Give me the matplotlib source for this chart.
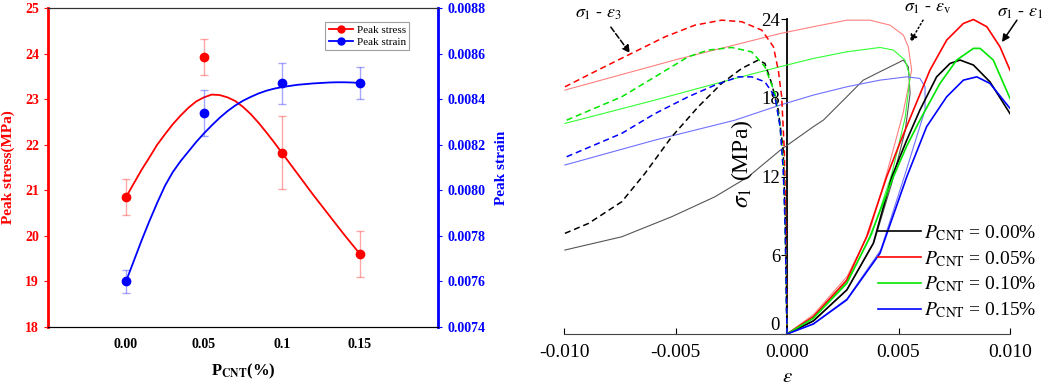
import matplotlib
matplotlib.use("Agg")
import matplotlib.pyplot as plt

plt.rcParams['font.family'] = ['Liberation Serif', 'DejaVu Serif']
plt.rcParams['mathtext.fontset'] = 'stix'

# ---- left panel data ----
pcnt = [0.00, 0.05, 0.10, 0.15]
peak_stress = [20.85, 23.93, 21.82, 19.60]
stress_err = [0.40, 0.40, 0.80, 0.50]
peak_strain = [0.00760, 0.00834, 0.00847, 0.00847]
strain_err = [0.00005, 0.00010, 0.00009, 0.00007]

# fitted curves
fit_x = [0.0, 0.005, 0.01, 0.015, 0.02, 0.025, 0.03, 0.035, 0.04, 0.045, 0.05, 0.055,
         0.06, 0.065, 0.07, 0.075, 0.08, 0.085, 0.09, 0.095, 0.1, 0.105, 0.11, 0.115,
         0.12, 0.125, 0.13, 0.135, 0.14, 0.145, 0.15]
fit_stress = [20.85, 21.15, 21.45, 21.72, 22.0, 22.23, 22.45, 22.64, 22.81, 22.95, 23.04, 23.1,
              23.09, 23.04, 22.96, 22.83, 22.67, 22.48, 22.27, 22.05, 21.82, 21.59, 21.36, 21.13,
              20.9, 20.68, 20.46, 20.24, 20.02, 19.81, 19.6]
fit_strain = [0.00760, 0.00769, 0.00778, 0.007865, 0.007945, 0.00802, 0.00808, 0.008128,
              0.00817, 0.008212, 0.00825, 0.008285, 0.008318, 0.008347, 0.008372, 0.008393,
              0.00841, 0.008425, 0.008437, 0.008446, 0.008453, 0.008458, 0.008463, 0.008466,
              0.008469, 0.008471, 0.008473, 0.008474, 0.008474, 0.008473, 0.008471]

# ---- right panel data (strain, stress) ----
labels = ['0.00', '0.05', '0.10', '0.15']
colors = ['black', '#ff0000', '#00e600', '#0000ff']
ev_colors = ['#555555', '#ff8080', '#33ff33', '#7070ff']

e1_x = [
    [0, 0.00118, 0.00268, 0.00387, 0.0047, 0.00535, 0.00596, 0.00671, 0.00731, 0.00776, 0.00836, 0.0091, 0.01],
    [0, 0.00118, 0.00268, 0.00357, 0.00447, 0.00507, 0.00567, 0.00641, 0.00716, 0.00791, 0.00836, 0.00896, 0.00955, 0.01],
    [0, 0.00118, 0.00268, 0.00372, 0.00477, 0.00536, 0.00596, 0.00686, 0.00761, 0.00836, 0.00866, 0.00925, 0.01],
    [0, 0.00118, 0.00268, 0.00417, 0.00537, 0.00626, 0.00716, 0.00791, 0.00851, 0.0091, 0.01],
]
e1_y = [
    [0, 1.0, 3.35, 6.91, 11.98, 14.7, 17.07, 19.6, 20.62, 20.88, 20.5, 19.22, 16.8],
    [0, 1.32, 4.11, 7.41, 11.98, 14.6, 17.07, 20.11, 22.4, 23.67, 23.97, 23.42, 21.89, 20.11],
    [0, 1.2, 3.86, 7.41, 11.98, 14.3, 16.3, 19.1, 20.88, 21.77, 21.77, 20.88, 17.96],
    [0, 0.76, 2.6, 6.15, 11.98, 15.8, 18.08, 19.35, 19.6, 19.1, 17.2],
]

e3_x = [
    [-0.00996, -0.0089, -0.00741, -0.00637, -0.00517, -0.00398, -0.00293, -0.00203, -0.00129,
     -0.00099, -0.00069, -0.00039, -0.00017, -0.00008, -0.00003, 0],
    [-0.00996, -0.0085, -0.00697, -0.00547, -0.00413, -0.00293, -0.00203, -0.00113, -0.00061,
     -0.00039, -0.00024, -0.00012, -0.00006, -0.00002, 0],
    [-0.00988, -0.00741, -0.00592, -0.00443, -0.00353, -0.00248, -0.00158, -0.00099, -0.00054,
     -0.00031, -0.00017, -0.00008, -0.00003, 0],
    [-0.00988, -0.00741, -0.00592, -0.00443, -0.00323, -0.00218, -0.00158, -0.00099, -0.00054,
     -0.00031, -0.00017, -0.00008, -0.00003, 0],
]
e3_y = [
    [7.67, 8.43, 10.08, 12.24, 15.03, 17.32, 19.1, 20.24, 20.88, 20.62, 19.1, 17.07, 14.0, 9.0, 3.0, 0],
    [18.84, 20.1, 21.39, 22.65, 23.54, 23.92, 23.8, 23.16, 21.9, 20.1, 18.1, 14.0, 9.0, 3.0, 0],
    [16.3, 18.08, 19.6, 21.13, 21.64, 21.84, 21.5, 20.37, 18.34, 15.8, 13.26, 8.0, 3.0, 0],
    [13.51, 15.29, 16.8, 18.08, 18.97, 19.6, 19.6, 19.22, 18.08, 15.8, 12.5, 8.0, 3.0, 0],
]

ev_x = [
    [0, 0.0012, 0.0027, 0.0039, 0.0047, 0.0053, 0.00552, 0.00544, 0.00522, 0.00492, 0.00417,
     0.00342, 0.00268, 0.00163, 0.00118, -0.00031, -0.00174, -0.00323, -0.00517, -0.00741, -0.00996],
    [0, 0.0012, 0.0027, 0.0037, 0.0045, 0.0052, 0.00559, 0.00544, 0.00522, 0.00462, 0.00372,
     0.00268, 0.00118, -0.00031, -0.005, -0.00996],
    [0, 0.0012, 0.0027, 0.0038, 0.0047, 0.0053, 0.00552, 0.00529, 0.00477, 0.00417, 0.00268,
     0.00118, -0.00031, -0.00233, -0.00592, -0.00996],
    [0, 0.0012, 0.0027, 0.0042, 0.0053, 0.0059, 0.00619, 0.00619, 0.00596, 0.00537, 0.00417,
     0.00268, 0.00118, -0.00031, -0.00233, -0.00592, -0.00996],
]
ev_y = [
    [0, 1.0, 3.4, 7.0, 11.5, 15.5, 18.34, 20.37, 20.88, 20.62, 19.99, 19.35, 18.08, 16.3, 15.8,
     14.0, 11.98, 10.46, 8.94, 7.41, 6.4],
    [0, 1.5, 4.4, 7.8, 12.4, 16.8, 20.11, 21.89, 22.78, 23.54, 23.92, 23.92, 23.42, 22.9, 20.9, 18.59],
    [0, 1.3, 4.0, 7.6, 12.2, 16.5, 19.6, 20.88, 21.64, 21.84, 21.51, 21.0, 20.37, 19.48, 17.83, 16.05],
    [0, 0.8, 2.7, 6.4, 12.2, 15.5, 17.07, 18.84, 19.48, 19.6, 19.35, 18.84, 18.21, 17.45, 16.3,
     14.78, 12.88],
]

fig = plt.figure(figsize=(10.52, 3.88), dpi=100)

# ================= left panel =================
ax = fig.add_axes([48 / 1052, 1 - 327 / 388, 390 / 1052, 319 / 388])
ax2 = ax.twinx()
red = '#ff0000'
blue = '#0000ff'

ax.plot(fit_x, fit_stress, color=red, lw=1.3, zorder=3)
ax.errorbar(pcnt, peak_stress, yerr=stress_err, fmt='none', ecolor=red, alpha=0.35,
            capsize=3, elinewidth=1, zorder=2)
ax.plot(pcnt, peak_stress, 'o', color=red, ms=6, zorder=4)

ax2.plot(fit_x, fit_strain, color=blue, lw=1.3, zorder=3)
ax2.errorbar(pcnt, peak_strain, yerr=strain_err, fmt='none', ecolor=blue, alpha=0.35,
             capsize=3, elinewidth=1, zorder=2)
ax2.plot(pcnt, peak_strain, 'o', color=blue, ms=6, zorder=4)

ax.set_xlim(-0.05, 0.2)
ax.set_ylim(18, 25)
ax2.set_ylim(0.0074, 0.0088)
ax.set_xticks(pcnt)
ax.set_xticklabels(['0.00', '0.05', '0.1', '0.15'], fontsize=10, fontweight='bold')
ax.tick_params(axis='x', length=0, pad=8)
ax.tick_params(axis='y', colors=red, labelsize=10, direction='out', length=3)
ax2.tick_params(axis='y', colors=blue, labelsize=10, direction='out', length=3)
for t in ax.get_yticklabels() + ax2.get_yticklabels():
    t.set_fontweight('bold')
ax.spines['left'].set_color(red)
ax.spines['left'].set_linewidth(2)
ax2.spines['left'].set_visible(False)
ax2.spines['right'].set_color(blue)
ax2.spines['right'].set_linewidth(2)
ax.spines['top'].set_color('#333333')
ax2.spines['top'].set_color('#333333')
ax.set_ylabel('Peak stress(MPa)', color=red, fontsize=11, fontweight='bold', labelpad=7)
ax2.set_ylabel('Peak strain', color=blue, fontsize=11, fontweight='bold', labelpad=7)
ax.set_xlabel(r'P$_{\mathbf{CNT}}$(%)', fontsize=12, fontweight='bold', labelpad=8)

h1, = ax.plot([], [], '-o', color=red, ms=5, lw=1.3)
h2, = ax.plot([], [], '-o', color=blue, ms=5, lw=1.3)
leg = ax.legend([h1, h2], ['Peak stress', 'Peak strain'], loc='upper right',
                bbox_to_anchor=(0.94, 0.975), fontsize=8, fancybox=False,
                handlelength=2.2, borderpad=0.3, labelspacing=0.2, handletextpad=0.3)
leg.get_frame().set_edgecolor('#888888')
leg.get_frame().set_linewidth(0.8)

# ================= right panel =================
bx = fig.add_axes([564 / 1052, 1 - 334 / 388, 446 / 1052, 328 / 388])
for i in range(4):
    bx.plot(ev_x[i], ev_y[i], color=ev_colors[i], lw=0.8)
for i in range(4):
    bx.plot(e3_x[i], e3_y[i], color=colors[i], lw=1.1, ls=(0, (4, 2.5)))
for i in range(4):
    bx.plot(e1_x[i], e1_y[i], color=colors[i], lw=1.2,
            label=r'$P_{\rm CNT}$ = ' + labels[i] + '%')

bx.set_xlim(-0.01, 0.01)
bx.set_ylim(0, 25)
bx.spines['top'].set_visible(False)
bx.spines['right'].set_visible(False)
bx.spines['left'].set_position(('data', 0))
bx.spines['left'].set_bounds(0, 24)
bx.spines['left'].set_linewidth(1.3)
bx.spines['bottom'].set_bounds(-0.01, 0.01)
bx.spines['bottom'].set_color('#444444')
bx.spines['left'].set_zorder(0.5)
bx.set_xticks([-0.010, -0.005, 0.0, 0.005, 0.010])
bx.set_xticklabels(['-0.010', '-0.005', '0.000', '0.005', '0.010'])
bx.set_yticks([0, 6, 12, 18, 24])
bx.tick_params(axis='x', direction='in', length=4, labelsize=14, pad=7)
bx.tick_params(axis='y', direction='out', length=4, labelsize=13.5, pad=1)
bx.get_yticklabels()[0].set_va('bottom')
bx.text(0, -3.3, r'$\varepsilon$', ha='center', va='center', fontsize=15)
bx.text(-0.002, 13.0, r'$\sigma_1$ (MPa)', rotation=90, ha='center', va='center', fontsize=17)

# curve-type labels with arrows
bx.text(-0.00846, 24.46, r'$\sigma_1$ - $\varepsilon_3$', ha='center', va='center', fontsize=13)
bx.text(0.00632, 24.91, r'$\sigma_1$ - $\varepsilon_{\rm v}$', ha='center', va='center', fontsize=13)
bx.text(0.01045, 24.53, r'$\sigma_1$ - $\varepsilon_1$', ha='center', va='center', fontsize=13)
arrow_kw = dict(arrowstyle='-|>', color='black', lw=1.1, mutation_scale=11, shrinkA=0, shrinkB=0)
bx.annotate('', xy=(-0.00704, 21.41), xytext=(-0.0079, 23.39), annotation_clip=False,
            arrowprops=dict(arrow_kw, ls='--'))
bx.annotate('', xy=(0.00552, 22.25), xytext=(0.0061, 23.92), annotation_clip=False,
            arrowprops=dict(arrow_kw, ls=':'))
bx.annotate('', xy=(0.00964, 22.25), xytext=(0.01031, 23.92), annotation_clip=False,
            arrowprops=arrow_kw)

bx.legend(loc='lower right', bbox_to_anchor=(1.09, 0.0), frameon=False, fontsize=14,
          handlelength=2.2, labelspacing=0.32, handletextpad=0.15, borderpad=0.2)

fig.savefig('out.png', dpi=100)
